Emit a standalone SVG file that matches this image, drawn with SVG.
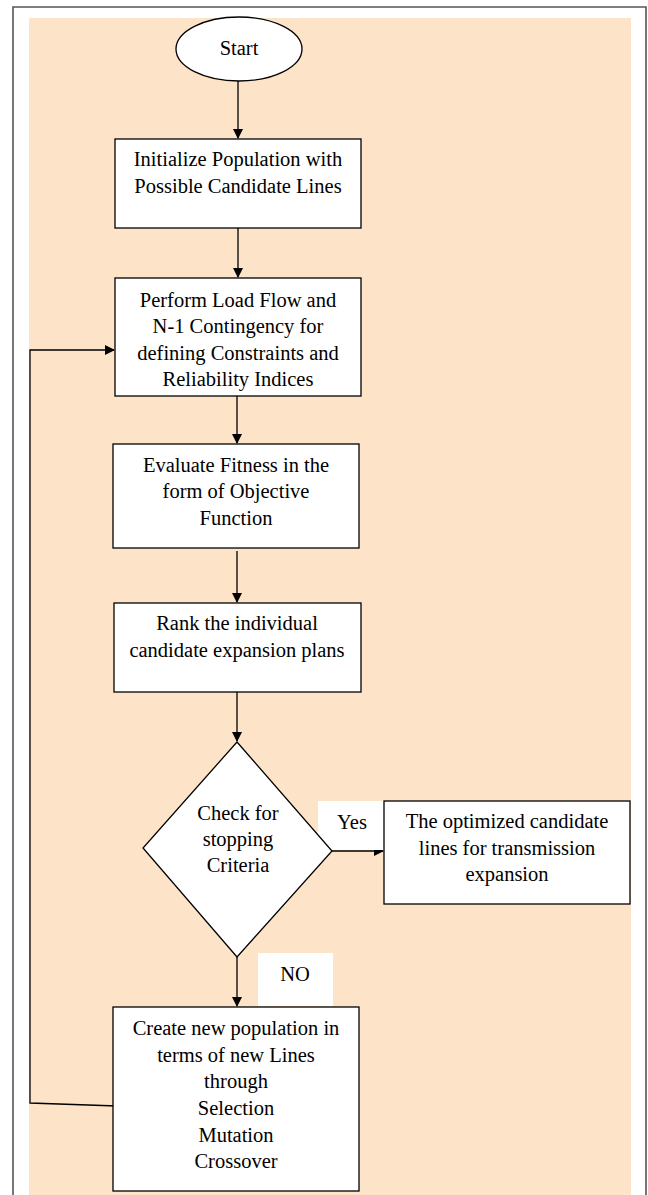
<svg xmlns="http://www.w3.org/2000/svg" width="648" height="1195" viewBox="0 0 648 1195">
<defs>
<style>
.nd{fill:#fff;stroke:#000;stroke-width:1.3}
.tx{font-family:"Liberation Serif","Times New Roman",serif;font-size:20.5px;fill:#000;text-anchor:middle}
.ln{fill:none;stroke:#000;stroke-width:1.3}
</style>
<marker id="ah" markerWidth="10" markerHeight="10" refX="9" refY="5" orient="auto" markerUnits="userSpaceOnUse">
<path d="M0,0 L10,5 L0,10 Z" fill="#000"/>
</marker>
</defs>
<rect x="0" y="0" width="648" height="1195" fill="#fff"/>
<rect x="29" y="18" width="602" height="1177" fill="#fde3c8"/>
<path d="M13,1195 L13,7 L646,7 L646,1195" fill="none" stroke="#555" stroke-width="1.6"/>

<g id="connectors">
<line class="ln" x1="238" y1="81" x2="238" y2="138" marker-end="url(#ah)"/>
<line class="ln" x1="238" y1="228" x2="238" y2="277" marker-end="url(#ah)"/>
<line class="ln" x1="237" y1="396" x2="237" y2="443" marker-end="url(#ah)"/>
<line class="ln" x1="237" y1="551" x2="237" y2="602" marker-end="url(#ah)"/>
<line class="ln" x1="237" y1="692" x2="237" y2="741" marker-end="url(#ah)"/>
<line class="ln" x1="332" y1="851" x2="383" y2="851" marker-end="url(#ah)"/>
<line class="ln" x1="237" y1="957" x2="237" y2="1006" marker-end="url(#ah)"/>
<path class="ln" d="M117,1106 L30,1103 L30,350 L114,350" marker-end="url(#ah)"/>
</g>

<g id="yes-label">
<rect x="318" y="801" width="66" height="49" fill="#fff"/>
<text class="tx" x="352" y="829">Yes</text>
</g>
<g id="no-label">
<rect x="258" y="953" width="75" height="53" fill="#fff"/>
<text class="tx" x="295" y="981">NO</text>
</g>

<g id="start">
<ellipse class="nd" cx="239" cy="49" rx="63" ry="32"/>
<text class="tx" x="239" y="55">Start</text>
</g>

<g id="init">
<rect class="nd" x="115" y="139" width="246" height="89"/>
<text class="tx" x="238" y="166">Initialize Population with</text>
<text class="tx" x="238" y="193">Possible Candidate Lines</text>
</g>

<g id="loadflow">
<rect class="nd" x="115" y="278" width="246" height="118"/>
<text class="tx" x="238" y="307">Perform Load Flow and</text>
<text class="tx" x="238" y="333">N-1 Contingency for</text>
<text class="tx" x="238" y="360">defining Constraints and</text>
<text class="tx" x="238" y="386">Reliability Indices</text>
</g>

<g id="fitness">
<rect class="nd" x="113" y="444" width="246" height="104"/>
<text class="tx" x="236" y="472">Evaluate Fitness in the</text>
<text class="tx" x="236" y="498">form of Objective</text>
<text class="tx" x="236" y="525">Function</text>
</g>

<g id="rank">
<rect class="nd" x="114" y="603" width="247" height="89"/>
<text class="tx" x="237" y="630">Rank the individual</text>
<text class="tx" x="237" y="657">candidate expansion plans</text>
</g>

<g id="check">
<polygon class="nd" points="237,742 332,851 237,957 143,848"/>
<text class="tx" x="238" y="820">Check for</text>
<text class="tx" x="238" y="846">stopping</text>
<text class="tx" x="238" y="872">Criteria</text>
</g>

<g id="result">
<rect class="nd" x="384" y="801" width="246" height="103"/>
<text class="tx" x="507" y="828">The optimized candidate</text>
<text class="tx" x="507" y="855">lines for transmission</text>
<text class="tx" x="507" y="881">expansion</text>
</g>

<g id="newpop">
<rect class="nd" x="113" y="1007" width="246" height="184"/>
<text class="tx" x="236" y="1035">Create new population in</text>
<text class="tx" x="236" y="1062">terms of new Lines</text>
<text class="tx" x="236" y="1088">through</text>
<text class="tx" x="236" y="1115">Selection</text>
<text class="tx" x="236" y="1142">Mutation</text>
<text class="tx" x="236" y="1168">Crossover</text>
</g>
</svg>
